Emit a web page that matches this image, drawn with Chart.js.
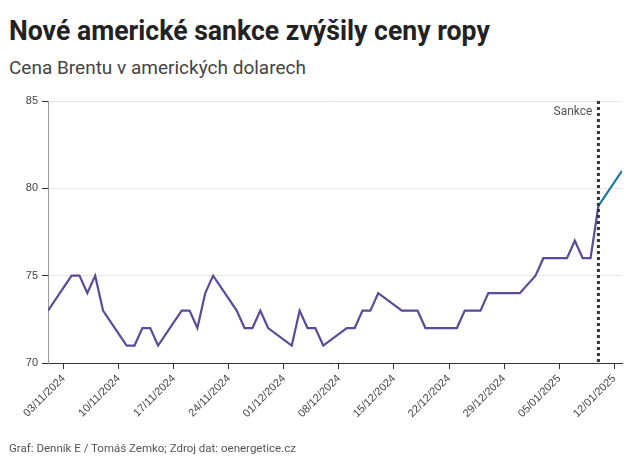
<!DOCTYPE html>
<html><head><meta charset="utf-8">
<script src="https://cdn.jsdelivr.net/npm/chart.js@4"></script>
<style>
body{margin:0;width:640px;height:463px;background:#fff;font-family:Roboto,sans-serif;position:relative;overflow:hidden}
#t{position:absolute;left:9px;top:14px;font-size:28px;font-weight:700;color:#222;white-space:nowrap;transform-origin:0 0}
#s{position:absolute;left:9px;top:56px;font-size:19px;color:#444}
#f{position:absolute;left:9px;top:441px;font-size:11.5px;color:#555}
#c{position:absolute;left:0;top:88px;width:640px;height:375px}
</style></head><body>
<div id="t">Nové americké sankce zvýšily ceny ropy</div>
<div id="s">Cena Brentu v amerických dolarech</div>
<div id="c"><canvas id="cv"></canvas></div>
<div id="f">Graf: Denník E / Tomáš Zemko; Zdroj dat: oenergetice.cz</div>
<script>
const t=document.getElementById('t');t.style.transform='scaleX('+(481/t.offsetWidth)+')';
// day index since 01/11/2024
const days = [0,3,4,5,6,7,10,11,12,13,14,17,18,19,20,21,24,25,26,27,28,31,32,33,34,35,38,39,40,41,42,45,46,47,48,49,52,53,55,56,59,60,62,63,66,67,68,69,70];
const brent = [73,75,75,74,75,73,71,71,72,72,71,73,73,72,74,75,73,72,72,73,72,71,73,72,72,71,72,72,73,73,74,73,73,73,72,72,72,73,73,74,74,74,75,76,76,77,76,76,79];
const afterDays = [70,73];
const afterVals = [79,81];
const tickDays = [2,9,16,23,30,37,44,51,58,65,72];
const tickLabels = ["03/11/2024","10/11/2024","17/11/2024","24/11/2024","01/12/2024","08/12/2024","15/12/2024","22/12/2024","29/12/2024","05/01/2025","12/01/2025"];
const yTicks = [70,75,80,85];
const sanctionDay = 70;

const sankce = {id:'sankce',afterDatasetsDraw(ch){
  const x=ch.scales.x.getPixelForValue(sanctionDay);const a=ch.chartArea;const c=ch.ctx;
  c.save();c.strokeStyle='#333';c.lineWidth=3;c.setLineDash([3,3]);
  c.beginPath();c.moveTo(x,a.top);c.lineTo(x,a.bottom);c.stroke();
  c.fillStyle='#555';c.font='12px Roboto';c.textAlign='right';c.fillText('Sankce',x-6,a.top+14);c.restore();}};

new Chart(document.getElementById('cv'),{
 type:'line',
 data:{datasets:[
  {data:days.map((d,i)=>({x:d,y:brent[i]})),borderColor:'#5b4a9a',borderWidth:2.2,pointRadius:0,tension:0},
  {data:afterDays.map((d,i)=>({x:d,y:afterVals[i]})),borderColor:'#2176a0',borderWidth:2.2,pointRadius:0,tension:0}
 ]},
 plugins:[sankce],
 options:{responsive:true,maintainAspectRatio:false,animation:false,
  layout:{padding:{top:13,right:18,left:0,bottom:0}},
  plugins:{legend:{display:false},tooltip:{enabled:false}},
  scales:{
   x:{type:'linear',min:0,max:73,
     afterFit(s){s.height=100;},
     afterBuildTicks(s){s.ticks=tickDays.map(v=>({value:v}));},
     ticks:{autoSkip:false,maxRotation:45,minRotation:45,color:'#444',font:{size:11},callback:(v)=>tickLabels[tickDays.indexOf(v)]},
     grid:{display:true,drawOnChartArea:false,tickLength:6,color:'#333'},
     border:{color:'#333',width:1}},
   y:{min:70,max:85,
     afterFit(s){s.width=48;},
     afterBuildTicks(s){s.ticks=yTicks.map(v=>({value:v}));},
     ticks:{color:'#444',font:{size:11},padding:4},
     grid:{color:'#e6e6e6',tickLength:6,tickColor:'#333'},
     border:{color:'#999',width:1}}
  }}
});
</script></body></html>
